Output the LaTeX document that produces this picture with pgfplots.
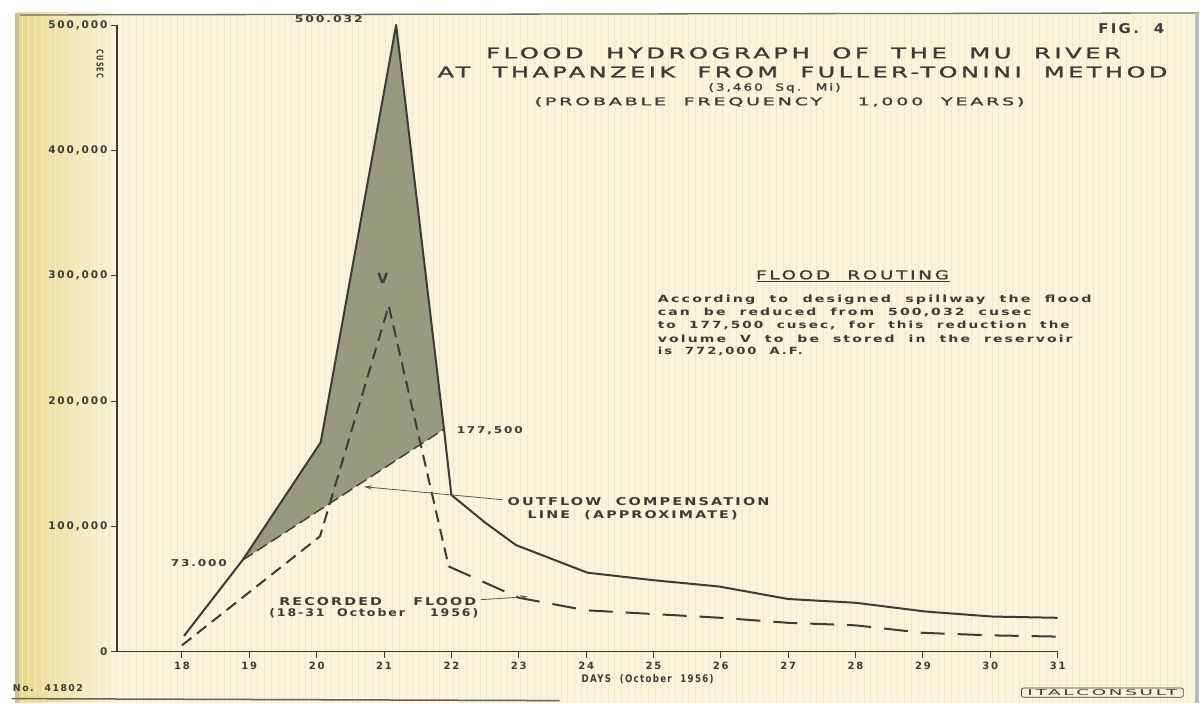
\documentclass[border=0pt]{standalone}
\usepackage{fontspec}
\setmainfont{DejaVu Sans}
\usepackage{pgfplots}
\pgfplotsset{compat=1.18}
\usetikzlibrary{arrows.meta}

\definecolor{paper}{HTML}{F9F4DA}
\definecolor{rulec}{HTML}{F0E9C6}
\definecolor{ink}{HTML}{3D3C34}
\definecolor{shadec}{HTML}{979A7D}
\definecolor{edgec}{HTML}{EAD98A}

\newfontfamily\tfont[LetterSpace=15,WordSpace=2,FakeBold=1.3]{DejaVu Sans}
\newfontfamily\lfont[LetterSpace=15,WordSpace=2]{DejaVu Sans}
\newfontfamily\bfont[LetterSpace=15,WordSpace=2]{DejaVu Sans Bold}
\newfontfamily\kfont[LetterSpace=18]{DejaVu Sans Bold}
\newcommand{\fw}[3]{\resizebox{#1}{#2}{#3}}

\begin{document}
\begin{tikzpicture}[x=1pt,y=1pt]
% ---------- paper ----------
\fill[paper] (0,0) rectangle (1200,703);
\begin{scope}[shift={(0pt,703pt)},x=1pt,y=-1pt]
  \fill[white] (0,0) rectangle (1200,13);
  \fill[white] (0,0) rectangle (16,703);
  \shade[left color=edgec, right color=paper] (18,13) rectangle (115,703);
  \fill[edgec!70!black!60] (15,13) rectangle (19,703);
  \foreach \i in {0,...,173} {
    \draw[rulec, line width=0.8pt] ({22+\i*6.74},15) -- ({22+\i*6.74},703);
  }
  \draw[ink!75, line width=1.3pt] (20,15) -- (1200,13);
  \draw[ink!80, line width=1.5pt] (12,699) -- (560,701);
  \fill[ink!35] (1196,13) rectangle (1200,703);
\end{scope}

% ---------- axis ----------
\begin{axis}[
  at={(117pt,51pt)}, anchor=south west,
  scale only axis, width=941.2pt, height=627pt,
  xmin=17.035, xmax=31, ymin=0, ymax=500000,
  axis x line*=bottom, axis y line*=left,
  x axis line style={ink, line width=1pt, -},
  y axis line style={ink, line width=1.8pt, -},
  clip=false,
  xtick={18,...,31},
  xticklabels={18,19,20,21,22,23,24,25,26,27,28,29,30,31},
  ytick={0,100000,200000,300000,400000,500000},
  yticklabels={0,{100,000},{200,000},{300,000},{400,000},{500,000}},
  scaled y ticks=false,
  tick align=outside, major tick length=6pt,
  tick style={ink, line width=0.9pt},
  xticklabel style={font=\kfont\fontsize{10}{10}\selectfont, text=ink, yshift=-1pt},
  yticklabel style={font=\kfont\fontsize{10.5}{10.5}\selectfont, text=ink},
]
% volume V
\addplot[fill=shadec, draw=none] coordinates {
  (18.9,73000) (20.06,167000) (21.18,500032) (21.89,177500) (18.9,73000)} --cycle;
% outflow compensation line
\addplot[ink, line width=1.4pt, dash pattern=on 12pt off 5pt] coordinates {
  (18.9,73000) (21.89,177500)};
% recorded flood
\addplot[ink, line width=2pt, dash pattern=on 12pt off 7pt] coordinates {
  (18.0,5000) (20.05,92000) (21.07,276000) (21.96,68000)};
\addplot[ink, line width=2pt, dash pattern=on 24pt off 13pt] coordinates {
  (21.96,68000) (23.0,43000) (24.0,33000) (25.0,30000) (26.0,27000)
  (27.0,23000) (28.0,21000) (29.0,15000) (30.0,13000) (31.0,12000)};
% Fuller-Tonini hydrograph
\addplot[ink, line width=2pt, line join=round] coordinates {
  (18.03,12500) (18.9,73000) (20.06,167000) (21.18,500032) (21.89,177500)
  (22.0,125000) (22.5,103000) (22.96,85000) (24.02,63000) (25.0,57000)
  (25.97,52000) (27.0,42000) (28.0,39000) (29.04,32000) (30.03,28000)
  (31.0,27000)};
\end{axis}

% ---------- texts ----------
\begin{scope}[shift={(0pt,703pt)},x=1pt,y=-1pt, every node/.style={inner sep=0pt, text=ink}]
  \node at (1132,29) {\fw{66pt}{10pt}{\bfont FIG. 4}};
  \node at (804,53) {\fw{635pt}{11pt}{\tfont FLOOD HYDROGRAPH OF THE MU RIVER}};
  \node at (803,72) {\fw{730pt}{11pt}{\tfont AT THAPANZEIK FROM FULLER-TONINI METHOD}};
  \node at (775,88) {\fw{132pt}{7.5pt}{\tfont (3,460 Sq. Mi)}};
  \node at (780,102) {\fw{490pt}{8pt}{\tfont (PROBABLE FREQUENCY \ 1,000 YEARS)}};

  \node at (853,275) {\fw{193pt}{9pt}{\tfont FLOOD ROUTING}};
  \draw[ink, line width=0.9pt] (757,282) -- (950,282);
  \node[anchor=west] at (658,300) {\fw{434pt}{7.5pt}{\bfont According to designed spillway the flood}};
  \node[anchor=west] at (658,313) {\fw{374pt}{7.5pt}{\bfont can be reduced from 500,032 cusec}};
  \node[anchor=west] at (658,326) {\fw{412pt}{7.5pt}{\bfont to 177,500 cusec, for this reduction the}};
  \node[anchor=west] at (658,339) {\fw{415pt}{7.5pt}{\bfont volume V to be stored in the reservoir}};
  \node[anchor=west] at (658,352) {\fw{145pt}{7.5pt}{\bfont is 772,000 A.F.}};

  \node at (329,19) {\fw{68pt}{7pt}{\bfont 500.032}};
  \node at (383,279) {\bfont\fontsize{14}{14}\selectfont V};
  \node at (490,431) {\fw{66pt}{7pt}{\bfont 177,500}};
  \node at (199,563) {\fw{56pt}{7pt}{\bfont 73.000}};

  \node at (639,502) {\fw{262pt}{8pt}{\bfont OUTFLOW COMPENSATION}};
  \node at (633,515) {\fw{210pt}{8pt}{\bfont LINE (APPROXIMATE)}};
  \draw[ink!85, line width=0.8pt, -{Stealth[length=8pt,width=4pt]}] (503,500) -- (364,487);

  \node at (378,602) {\fw{197pt}{8pt}{\bfont RECORDED\hspace{2.2em}FLOOD}};
  \node at (374,614) {\fw{209pt}{8pt}{\bfont (18-31 October \ 1956)}};
  \draw[ink!85, line width=0.8pt, -{Stealth[length=8pt,width=4pt]}] (481,600) -- (528,597);

  \node at (648,680) {\fw{132pt}{8pt}{\bfont DAYS (October 1956)}};
  \node[rotate=-90] at (100,64) {\fw{28pt}{7pt}{\bfont CUSEC}};
  \node[draw=ink, line width=0.7pt, rounded corners=2pt, inner xsep=6pt, inner ysep=1.5pt] at (1103,693)
     {\fw{150pt}{6pt}{\lfont ITALCONSULT}};
  \node at (48,688) {\fw{70pt}{7pt}{\bfont No. 41802}};
\end{scope}
\end{tikzpicture}
\end{document}
